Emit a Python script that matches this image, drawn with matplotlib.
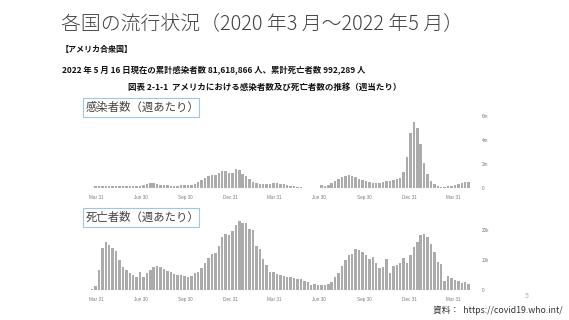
import numpy as np
import pandas as pd
import matplotlib
matplotlib.use("Agg")
import matplotlib.pyplot as plt
from matplotlib.patches import Rectangle

plt.rcParams['font.family'] = ['Noto Sans CJK JP', 'DejaVu Sans']

## weekly data
week_start = "2020-03-23"
cases_m = [0.05, 0.15, 0.2, 0.2, 0.2, 0.2, 0.18, 0.17, 0.16, 0.15, 0.15, 0.15, 0.15, 0.18, 0.22, 0.3, 0.38, 0.41,
           0.41, 0.36, 0.3, 0.27, 0.25, 0.23, 0.22, 0.22, 0.25, 0.25, 0.27, 0.3, 0.38, 0.49, 0.66, 0.87, 1.0, 1.09,
           1.09, 1.26, 1.4, 1.42, 1.28, 1.28, 1.56, 1.5, 1.2, 0.98, 0.77, 0.55, 0.41, 0.38, 0.36, 0.36, 0.38, 0.41,
           0.41, 0.38, 0.33, 0.27, 0.22, 0.16, 0.14, 0.08, 0.06, 0.06, 0.06, 0.05, 0.06, 0.25, 0.19, 0.3, 0.46, 0.63,
           0.74, 0.93, 1.01, 1.07, 0.98, 0.93, 0.79, 0.71, 0.6, 0.52, 0.46, 0.46, 0.46, 0.52, 0.6, 0.57, 0.71, 0.77,
           0.85, 1.34, 2.62, 4.56, 5.52, 4.95, 3.66, 2.1, 1.2, 0.6, 0.33, 0.16, 0.14, 0.14, 0.16, 0.22, 0.27, 0.33,
           0.41, 0.49, 0.55]
deaths_k = [0.4, 1.5, 6.7, 13.9, 15.9, 15.0, 13.9, 13.1, 10.0, 7.8, 6.7, 5.8, 5.0, 4.4, 6.0, 4.2, 5.6, 6.7, 7.6,
            8.0, 7.6, 7.1, 6.4, 5.9, 5.2, 4.9, 5.0, 4.7, 4.4, 4.7, 5.8, 6.1, 7.2, 8.9, 10.6, 12.0,
            12.5, 14.7, 17.6, 18.7, 18.3, 19.8, 21.7, 23.1, 22.4, 22.2, 20.2, 20.0, 14.7, 13.6, 10.2, 8.3, 6.1, 6.0,
            5.3, 4.9, 4.8, 4.4, 4.4, 4.1, 3.6, 3.6, 3.1, 2.8, 1.7, 2.0, 1.7, 1.6, 1.8, 2.0, 2.8, 4.4, 5.8,
            8.0, 10.0, 11.7, 12.0, 13.6, 13.3, 12.8, 11.7, 10.3, 10.9, 8.9, 7.2, 7.6, 10.2, 5.6, 8.1, 8.3, 8.9, 10.8,
            9.1, 11.7, 14.2, 16.1, 18.3, 18.7, 17.6, 15.3, 12.8, 9.4, 8.6, 3.1, 4.8, 3.9, 3.3, 3.0, 2.2, 2.6, 2.0]

tick_dates = ["2020-03-31", "2020-06-30", "2020-09-30", "2020-12-31", "2021-03-31",
              "2021-06-30", "2021-09-30", "2021-12-31", "2022-03-31"]
tick_labels = ["Mar 31", "Jun 30", "Sep 30", "Dec 31", "Mar 31", "Jun 30", "Sep 30", "Dec 31", "Mar 31"]
cases_ticks = [0, 2e6, 4e6, 6e6]
cases_tick_labels = ["0", "2m", "4m", "6m"]
deaths_ticks = [0, 10000, 20000]
deaths_tick_labels = ["0", "10k", "20k"]

W, H = 569, 320
fig = plt.figure(figsize=(W / 100, H / 100), dpi=100)
fig.patch.set_facecolor("white")

def fx(px):
    return px / W

def fy(py):
    return 1 - py / H

dates = pd.date_range(week_start, periods=len(cases_m), freq="7D")
x0 = pd.Timestamp("2020-03-31")
xlim = (x0 - pd.Timedelta(days=22.5), x0 + pd.Timedelta(days=775))
bar_col = "#ababab"
lab_col = "#7a7a7a"


def setup(ax, yt, ylab, ylim):
    ax.set_xlim(xlim)
    ax.set_ylim(ylim)
    for s in ax.spines.values():
        s.set_visible(False)
    ax.set_xticks(pd.to_datetime(tick_dates))
    ax.set_xticklabels(tick_labels, fontsize=3.3, color=lab_col, family="Liberation Sans")
    ax.yaxis.tick_right()
    ax.set_yticks(yt)
    ax.set_yticklabels(ylab, fontsize=3.3, color=lab_col, family="Liberation Sans")
    ax.tick_params(length=0, pad=5)
    ax.tick_params(axis="y", pad=5)
    ax.axhline(0, color="#d8d8d8", lw=0.4, zorder=0)


# top chart: cases
ax1 = fig.add_axes([fx(85), fy(188.3), fx(475) - fx(85), fy(115.7) - fy(188.3)])
ax1.bar(dates, np.array(cases_m) * 1e6, width=5, color=bar_col, linewidth=0)
setup(ax1, cases_ticks, cases_tick_labels, (0, 6e6))

# bottom chart: deaths
ax2 = fig.add_axes([fx(85), fy(290), fx(475) - fx(85), fy(215) - fy(290)])
ax2.bar(dates, np.array(deaths_k) * 1000, width=5, color=bar_col, linewidth=0)
setup(ax2, deaths_ticks, deaths_tick_labels, (0, 25000))

# texts
fig.text(fx(61), fy(24), "各国の流行状況（2020 年3 月～2022 年5 月）", fontsize=14.3,
         color="#404040", weight="light", va="center", ha="left")
fig.text(fx(61), fy(49), "【アメリカ合衆国】", fontsize=5.8, weight="bold", color="#111111",
         va="center", ha="left")
fig.text(fx(62), fy(71), "2022 年 5 月 16 日現在の累計感染者数 81,618,866 人、累計死亡者数 992,289 人",
         fontsize=6, weight="bold", color="#111111", va="center", ha="left")
fig.text(fx(128), fy(87), "図表 2-1-1  アメリカにおける感染者数及び死亡者数の推移（週当たり）",
         fontsize=6.1, weight="bold", color="#111111", va="center", ha="left")

for top, bot, label in [(98, 117, "感染者数（週あたり）"), (208, 227, "死亡者数（週あたり）")]:
    fig.add_artist(Rectangle((fx(83), fy(bot)), fx(199) - fx(83), fy(top) - fy(bot),
                             transform=fig.transFigure, fill=False, ec="#9fc5e8", lw=0.8))
    fig.text(fx(86), fy((top + bot) / 2), label, fontsize=8.2, color="#404040", va="center", ha="left")

fig.text(fx(527), fy(296), "5", fontsize=5, color="#aaaaaa", ha="center", va="center")
fig.text(fx(433), fy(310), "資料：  https://covid19.who.int/", fontsize=6.3, color="#333333",
         ha="left", va="center")

fig.savefig("out.png", dpi=100)
